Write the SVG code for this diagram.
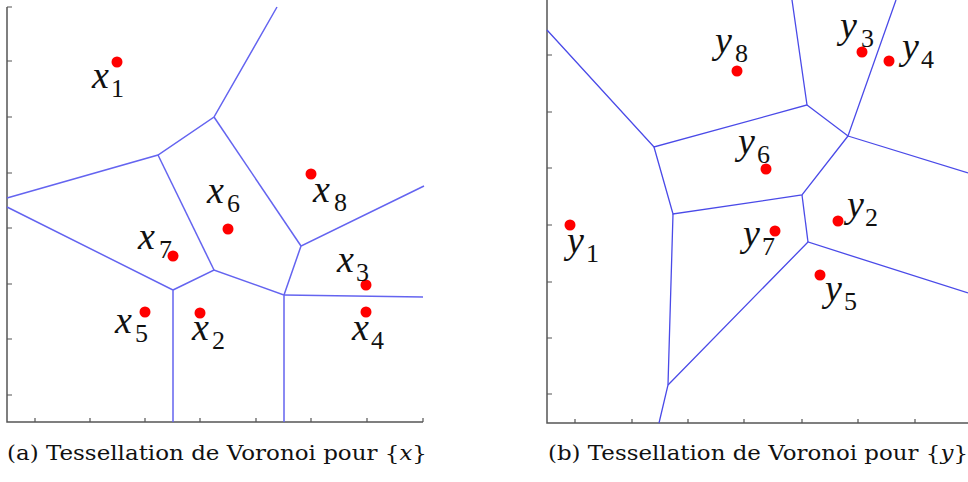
<svg xmlns="http://www.w3.org/2000/svg" width="968" height="482" viewBox="0 0 968 482">
<style>
.ax{stroke:#555;stroke-width:1.5;fill:none}
.tk{stroke:#555;stroke-width:1.2;fill:none}
.eL{stroke:#6464f0;stroke-width:1.5;fill:none}
.eR{stroke:#4a4ae8;stroke-width:1.3;fill:none}
.pt{fill:#ff0000}
.lb{font-family:'Liberation Serif','Times New Roman',serif;font-style:italic;font-size:38px;fill:#111}
.sb{font-style:normal;font-size:26px}
.cap{font-family:'DejaVu Serif',serif;font-size:19.5px;fill:#111}
</style>
<rect width="968" height="482" fill="#fff"/>
<g id="axes-left">
<path class="ax" d="M7,7 V422 H423"/>
<path class="tk" d="M7,7 h5 M7,61 h5 M7,117 h5 M7,173 h5 M7,228 h5 M7,284 h5 M7,339 h5 M7,395 h5"/>
<path class="tk" d="M35,422 v-4 M90,422 v-4 M145,422 v-4 M200,422 v-4 M256,422 v-4 M311,422 v-4 M367,422 v-4 M423,422 v-4"/>
</g>
<g id="axes-right">
<path class="ax" d="M547,0 V423 H968"/>
<path class="tk" d="M547,55 h5 M547,112 h5 M547,168 h5 M547,225 h5 M547,282 h5 M547,338 h5 M547,394 h5"/>
<path class="tk" d="M575,423 v-4 M632,423 v-4 M688,423 v-4 M744,423 v-4 M802,423 v-4 M858,423 v-4 M915,423 v-4"/>
</g>
<g id="connectors">
<g id="edges-left" class="eL">
<path d="M277,7 L214,117 L158,155 L7,198"/>
<path d="M7,207 L173,290 L173,422"/>
<path d="M173,290 L214,270 L284,295 L284,422"/>
<path d="M158,155 L214,270"/>
<path d="M284,295 L423,297"/>
<path d="M284,295 L301,246 L424,186"/>
<path d="M214,117 L301,246"/>
</g>
<g id="edges-right" class="eR">
<path d="M547,30 L654,147 L807,105 L792,0"/>
<path d="M807,105 L848,136 L896,0"/>
<path d="M848,136 L968,173"/>
<path d="M848,136 L802,195 L673,214 L654,147"/>
<path d="M673,214 L668,385 L659,423"/>
<path d="M668,385 L808,242 L968,293"/>
<path d="M802,195 L808,242"/>
</g>
</g>
<g id="x1"><circle class="pt" cx="117" cy="62" r="5.5"/><text class="lb" x="92" y="88">x<tspan class="sb" x="111" dy="9">1</tspan></text></g>
<g id="x2"><circle class="pt" cx="200" cy="313" r="5.5"/><text class="lb" x="192" y="340">x<tspan class="sb" x="212" dy="9">2</tspan></text></g>
<g id="x3"><circle class="pt" cx="366" cy="285" r="5.5"/><text class="lb" x="337" y="272">x<tspan class="sb" x="356" dy="9">3</tspan></text></g>
<g id="x4"><circle class="pt" cx="366" cy="312" r="5.5"/><text class="lb" x="352" y="340">x<tspan class="sb" x="371" dy="9">4</tspan></text></g>
<g id="x5"><circle class="pt" cx="145" cy="312" r="5.5"/><text class="lb" x="115" y="333">x<tspan class="sb" x="135" dy="9">5</tspan></text></g>
<g id="x6"><circle class="pt" cx="228" cy="229" r="5.5"/><text class="lb" x="207" y="203">x<tspan class="sb" x="227" dy="9">6</tspan></text></g>
<g id="x7"><circle class="pt" cx="173" cy="256" r="5.5"/><text class="lb" x="138" y="249">x<tspan class="sb" x="159" dy="9">7</tspan></text></g>
<g id="x8"><circle class="pt" cx="311" cy="174" r="5.5"/><text class="lb" x="313" y="202">x<tspan class="sb" x="334" dy="9">8</tspan></text></g>
<g id="y1"><circle class="pt" cx="570" cy="225" r="5.5"/><text class="lb" x="567" y="253">y<tspan class="sb" x="586" dy="9">1</tspan></text></g>
<g id="y2"><circle class="pt" cx="838" cy="221" r="5.5"/><text class="lb" x="847" y="217">y<tspan class="sb" x="865" dy="9">2</tspan></text></g>
<g id="y3"><circle class="pt" cx="862" cy="52" r="5.5"/><text class="lb" x="840" y="38">y<tspan class="sb" x="861" dy="9">3</tspan></text></g>
<g id="y4"><circle class="pt" cx="889" cy="61" r="5.5"/><text class="lb" x="902" y="59">y<tspan class="sb" x="921" dy="9">4</tspan></text></g>
<g id="y5"><circle class="pt" cx="820" cy="275" r="5.5"/><text class="lb" x="825" y="301">y<tspan class="sb" x="844" dy="9">5</tspan></text></g>
<g id="y6"><circle class="pt" cx="766" cy="169" r="5.5"/><text class="lb" x="738" y="154">y<tspan class="sb" x="757" dy="9">6</tspan></text></g>
<g id="y7"><circle class="pt" cx="775" cy="231" r="5.5"/><text class="lb" x="743" y="246">y<tspan class="sb" x="762" dy="9">7</tspan></text></g>
<g id="y8"><circle class="pt" cx="737" cy="71" r="5.5"/><text class="lb" x="715" y="53">y<tspan class="sb" x="735" dy="9">8</tspan></text></g>
<g id="captions">
<text class="cap" x="7" y="460" textLength="420" lengthAdjust="spacingAndGlyphs">(a) Tessellation de Voronoi pour {<tspan font-style="italic">x</tspan>}</text>
<text class="cap" x="548" y="460" textLength="420" lengthAdjust="spacingAndGlyphs">(b) Tessellation de Voronoi pour {<tspan font-style="italic">y</tspan>}</text>
</g>
</svg>
